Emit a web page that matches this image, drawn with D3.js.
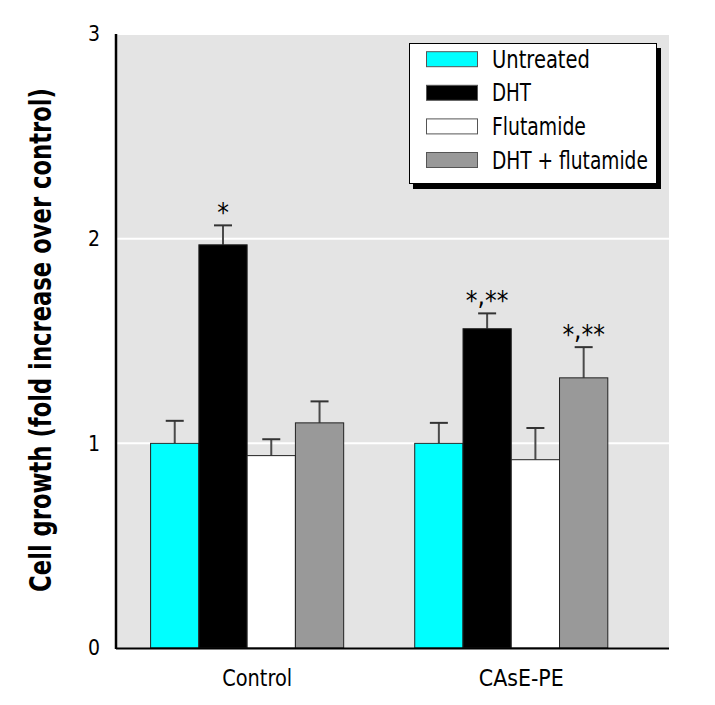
<!DOCTYPE html>
<html>
<head>
<meta charset="utf-8">
<script src="https://cdn.jsdelivr.net/npm/d3@7"></script>
<style>
  html, body { margin: 0; padding: 0; background: #fff; }
  text { font-family: "DejaVu Sans Condensed", "DejaVu Sans", "Liberation Sans", sans-serif; font-stretch: condensed; }
</style>
</head>
<body>
<svg id="chart" width="715" height="705"></svg>
<script>
// ---- data ----
const categories = ["Control", "CAsE-PE"];
const seriesNames = ["Untreated", "DHT", "Flutamide", "DHT + flutamide"];
const untreated = [1.00, 1.00];
const untreatedErr = [0.11, 0.10];
const dht = [1.97, 1.56];
const dhtErr = [0.095, 0.075];
const flutamide = [0.94, 0.92];
const flutamideErr = [0.08, 0.155];
const dhtFlutamide = [1.10, 1.32];
const dhtFlutamideErr = [0.105, 0.15];
const dhtMarks = ["*", "*,**"];
const dhtFlutamideMarks = ["", "*,**"];
const yTicks = [0, 1, 2, 3];
const yTitle = "Cell growth (fold increase over control)";

const seriesValues = [untreated, dht, flutamide, dhtFlutamide];
const seriesErrors = [untreatedErr, dhtErr, flutamideErr, dhtFlutamideErr];
const seriesMarks = [null, dhtMarks, null, dhtFlutamideMarks];
const fills = ["#00ffff", "#000000", "#ffffff", "#999999"];

// helper: squeeze a text horizontally (in its own frame) to a target width
function fitWidth(sel, target, baseTransform) {
  sel.each(function (d, i) {
    const t = d3.select(this);
    const w = this.getComputedTextLength();
    const tw = typeof target === "function" ? target(d, i) : target;
    const bt = typeof baseTransform === "function" ? baseTransform(d, i) : baseTransform;
    const s = Math.min(1.6, tw / w);
    t.attr("x", 0).attr("y", 0).attr("transform", `${bt} scale(${s},1)`);
  });
}

// ---- layout ----
const svg = d3.select("#chart");
const plot = { left: 116, right: 669, top: 34, bottom: 648 };

const y = d3.scaleLinear().domain([0, 3]).range([plot.bottom, plot.top]);
const x = d3.scaleBand().domain(categories).range([116, 642.4])
  .paddingInner(0.269).paddingOuter(0.131);
const xs = d3.scaleBand().domain(seriesNames).range([0, x.bandwidth()]).padding(0);

// background
svg.append("rect").attr("x", plot.left).attr("y", plot.top)
  .attr("width", plot.right - plot.left).attr("height", plot.bottom - plot.top)
  .attr("fill", "#e4e4e4");

// gridlines
svg.append("g").selectAll("line").data(yTicks.filter(d => d > 0)).join("line")
  .attr("x1", plot.left).attr("x2", plot.right)
  .attr("y1", d => y(d)).attr("y2", d => y(d))
  .attr("stroke", "#ffffff").attr("stroke-width", 2);

// y axis (labels only) via d3 axis
const yAxis = svg.append("g").attr("transform", `translate(${plot.left},0)`)
  .call(d3.axisLeft(y).tickValues(yTicks).tickSize(0).tickPadding(16).tickFormat(d3.format("d")));
yAxis.select(".domain").remove();
yAxis.selectAll("text").attr("font-size", 21).attr("fill", "#000")
  .style("font-family", '"DejaVu Sans Condensed", "DejaVu Sans", sans-serif');

// records
const records = [];
categories.forEach((c, ci) => {
  seriesNames.forEach((s, si) => {
    records.push({ c, s, si, v: seriesValues[si][ci], e: seriesErrors[si][ci],
      m: seriesMarks[si] ? seriesMarks[si][ci] : "" });
  });
});
const cx = d => x(d.c) + xs(d.s) + xs.bandwidth() / 2;

// error bars (upper only)
const eb = svg.append("g");
eb.selectAll("line.stem").data(records).join("line").attr("class", "stem")
  .attr("x1", cx).attr("x2", cx)
  .attr("y1", d => y(d.v)).attr("y2", d => y(d.v + d.e))
  .attr("stroke", "#4a4a4a").attr("stroke-width", 2);
eb.selectAll("line.cap").data(records).join("line").attr("class", "cap")
  .attr("x1", d => cx(d) - 9).attr("x2", d => cx(d) + 9)
  .attr("y1", d => y(d.v + d.e)).attr("y2", d => y(d.v + d.e))
  .attr("stroke", "#333").attr("stroke-width", 2);

// bars
svg.append("g").selectAll("rect").data(records).join("rect")
  .attr("x", d => x(d.c) + xs(d.s))
  .attr("y", d => y(d.v))
  .attr("width", xs.bandwidth())
  .attr("height", d => y(0) - y(d.v))
  .attr("fill", d => fills[d.si])
  .attr("stroke", "#222").attr("stroke-width", 1);

// significance marks: asterisks lowered so the comma sits at their foot
const marks = svg.append("g").selectAll("text").data(records.filter(d => d.m)).join("text")
  .attr("x", cx)
  .attr("y", d => y(d.v + d.e) - 3)
  .attr("text-anchor", "middle")
  .attr("font-size", 26);
marks.each(function (d) {
  const t = d3.select(this);
  let shifted = false;
  Array.from(d.m).forEach(ch => {
    const ts = t.append("tspan").text(ch);
    if (ch === "," && !shifted) { ts.attr("dy", -5); shifted = true; }
    else if (ch !== "," && shifted) { ts.attr("dy", 5); shifted = false; }
  });
});

// axis lines
svg.append("line").attr("x1", plot.left).attr("x2", plot.left)
  .attr("y1", plot.top).attr("y2", plot.bottom + 1)
  .attr("stroke", "#000").attr("stroke-width", 2.5);
svg.append("line").attr("x1", plot.left).attr("x2", plot.right)
  .attr("y1", plot.bottom + 0.5).attr("y2", plot.bottom + 0.5)
  .attr("stroke", "#000").attr("stroke-width", 2);

// x category labels
const catWidths = [70, 85];
svg.append("g").selectAll("text").data(categories).join("text")
  .attr("text-anchor", "middle")
  .attr("font-size", 23)
  .text(d => d)
  .call(fitWidth, (d, i) => catWidths[i], d => `translate(${x(d) + x.bandwidth() / 2 + 10},686)`);

// y title
svg.append("text")
  .attr("text-anchor", "middle")
  .attr("font-size", 30)
  .attr("font-weight", "bold")
  .text(yTitle)
  .call(fitWidth, 504, "translate(51,340) rotate(-90)");

// legend
const lg = svg.append("g");
lg.append("rect").attr("x", 413).attr("y", 48).attr("width", 248).attr("height", 141).attr("fill", "#000");
lg.append("rect").attr("x", 409.5).attr("y", 43.5).attr("width", 247).attr("height", 140)
  .attr("fill", "#fff").attr("stroke", "#000").attr("stroke-width", 1);
const legendWidths = [98, 39, 94, 156];
const rowY = d3.scalePoint().domain(seriesNames).range([59.2, 160]);
lg.selectAll("rect.sw").data(seriesNames).join("rect").attr("class", "sw")
  .attr("x", 426.5).attr("y", d => rowY(d) - 7.5)
  .attr("width", 51).attr("height", 15)
  .attr("fill", (d, i) => fills[i]).attr("stroke", "#555").attr("stroke-width", 1);
lg.selectAll("text").data(seriesNames).join("text")
  .attr("font-size", 24)
  .text(d => d)
  .call(fitWidth, (d, i) => legendWidths[i], d => `translate(492,${rowY(d) + 8.5})`);
</script>
</body>
</html>
